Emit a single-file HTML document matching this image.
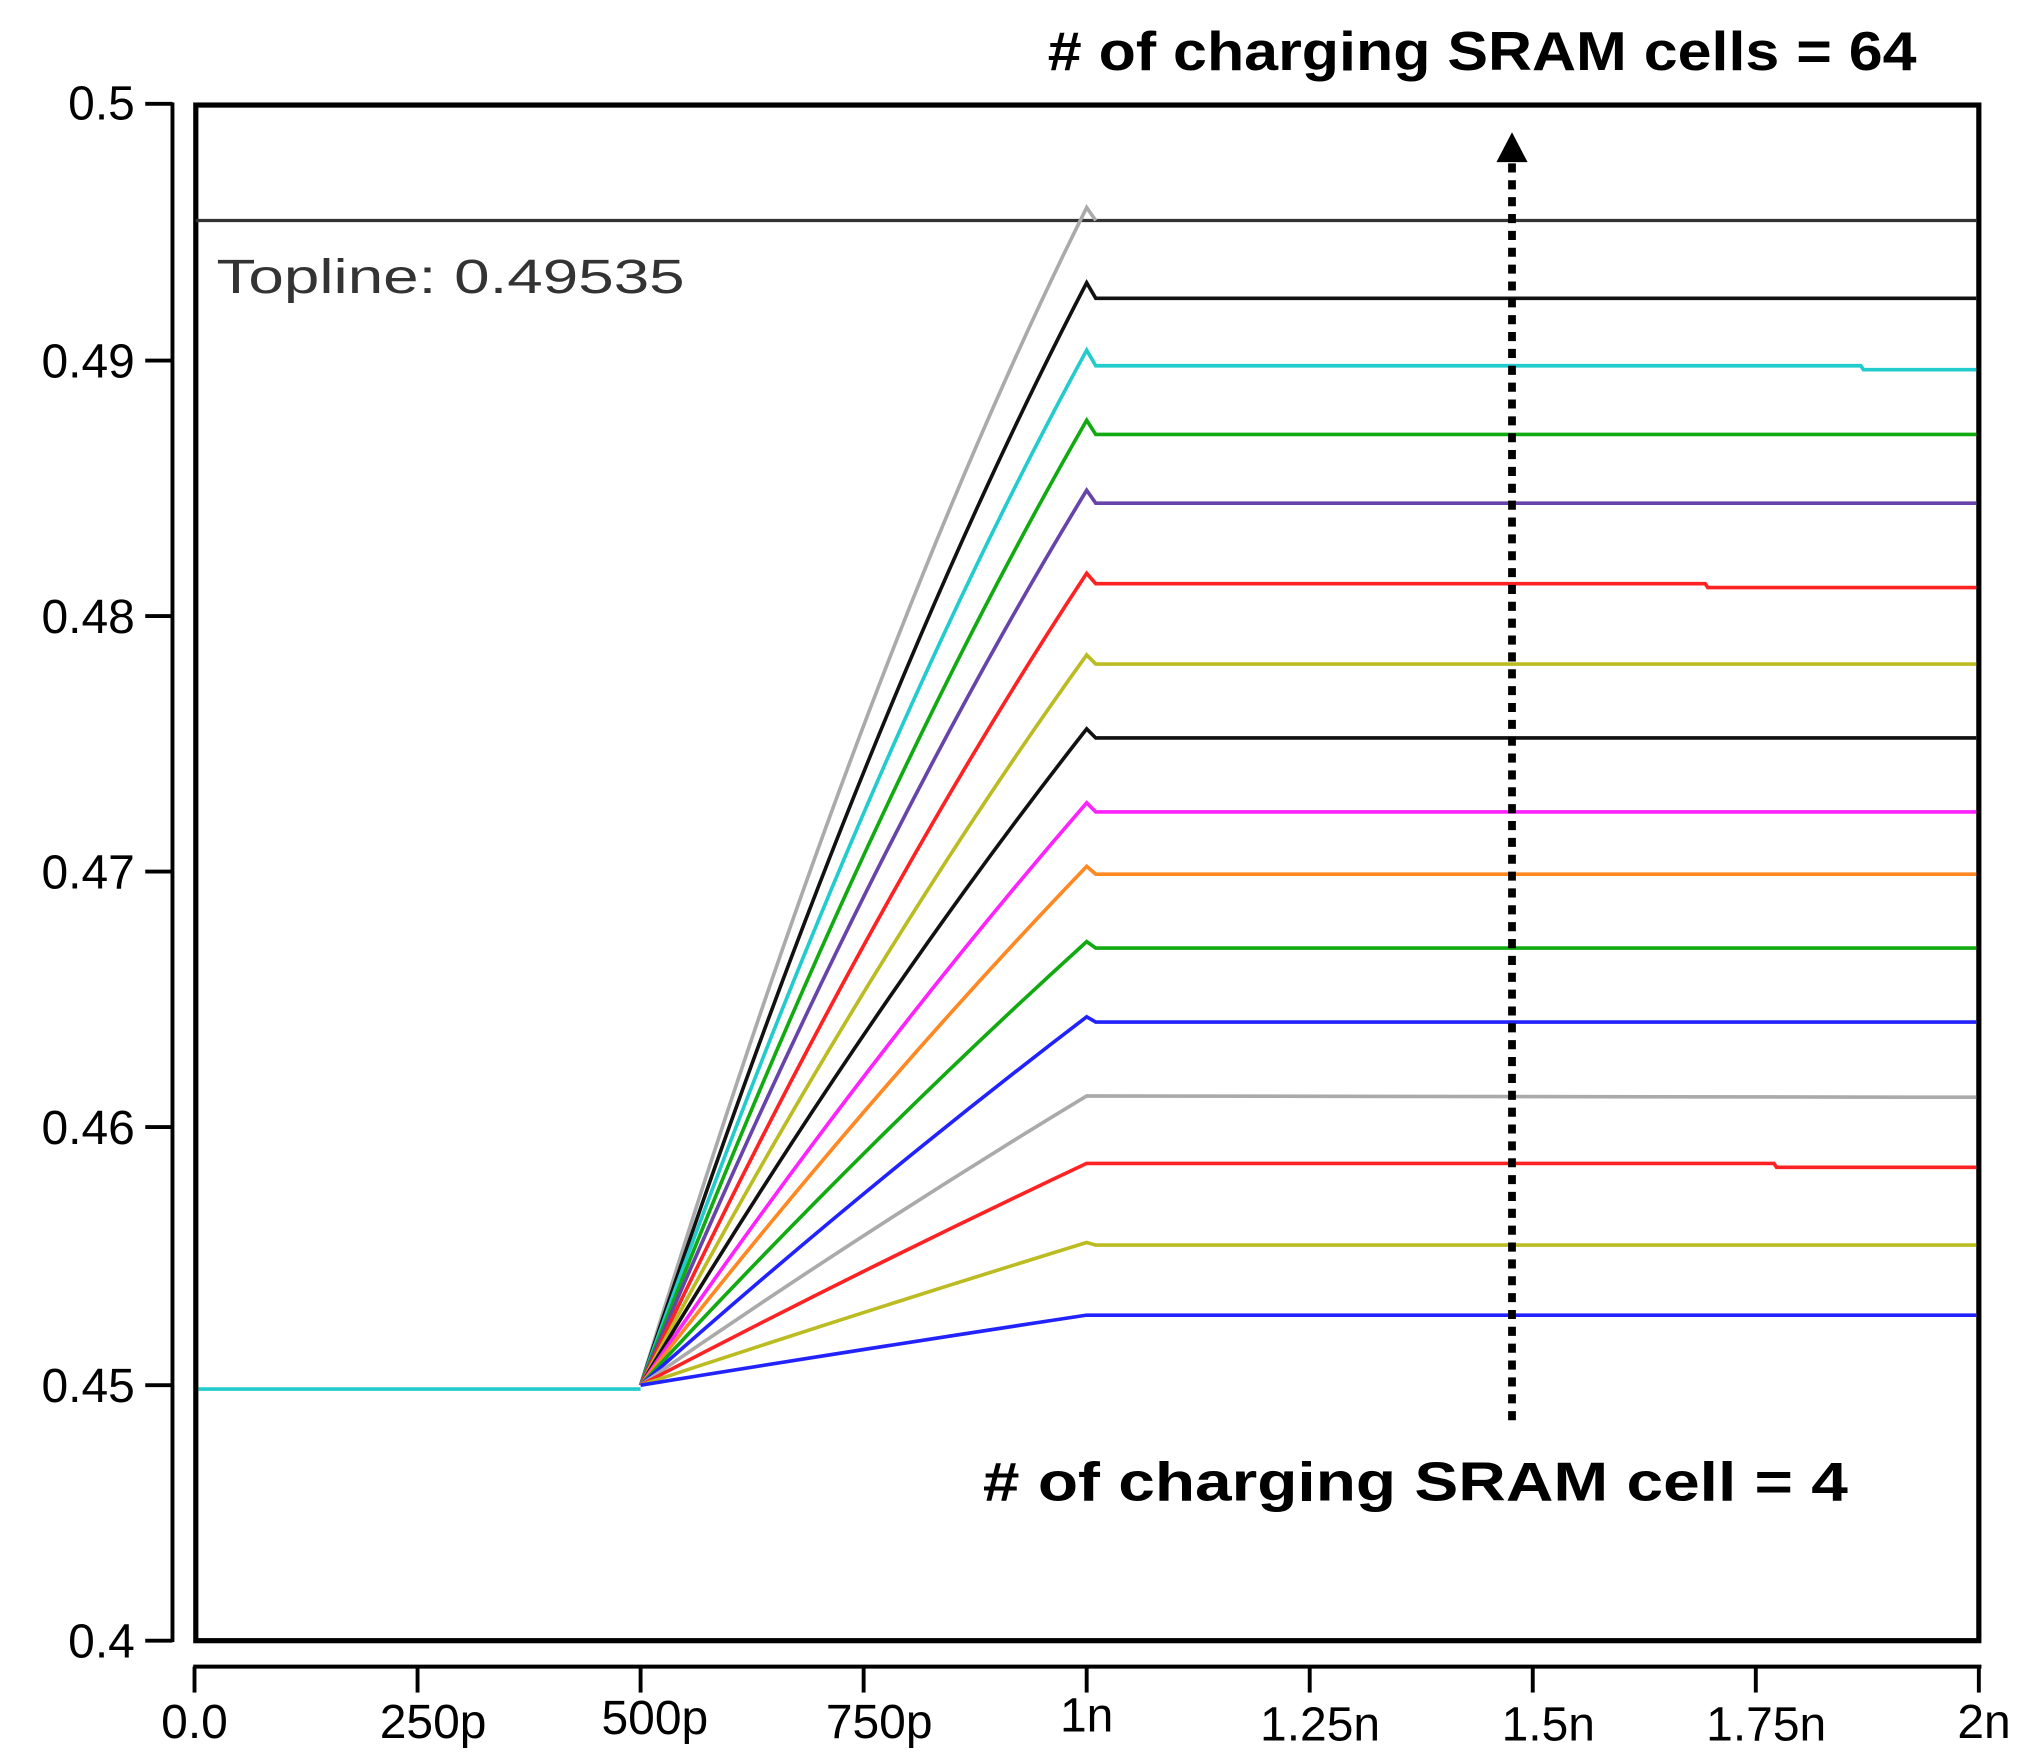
<!DOCTYPE html>
<html><head><meta charset="utf-8"><style>html,body{margin:0;padding:0;background:#fff}svg{display:block}</style></head>
<body>
<svg width="2032" height="1760" viewBox="0 0 1567 1357" preserveAspectRatio="none" xmlns="http://www.w3.org/2000/svg">
<rect width="1567" height="1357" fill="#fff"/>
<g stroke="#000" stroke-width="3">
<line x1="133" y1="79" x2="133" y2="1266"/>
<line x1="112" y1="80" x2="133" y2="80"/>
<line x1="112" y1="278" x2="133" y2="278"/>
<line x1="112" y1="475" x2="133" y2="475"/>
<line x1="112" y1="672" x2="133" y2="672"/>
<line x1="112" y1="869" x2="133" y2="869"/>
<line x1="112" y1="1068" x2="133" y2="1068"/>
<line x1="112" y1="1265" x2="133" y2="1265"/>
<line x1="149" y1="1285" x2="1528" y2="1285"/>
<line x1="150" y1="1285" x2="150" y2="1305"/>
<line x1="322" y1="1285" x2="322" y2="1305"/>
<line x1="494" y1="1285" x2="494" y2="1305"/>
<line x1="666" y1="1285" x2="666" y2="1305"/>
<line x1="838" y1="1285" x2="838" y2="1305"/>
<line x1="1010" y1="1285" x2="1010" y2="1305"/>
<line x1="1182" y1="1285" x2="1182" y2="1305"/>
<line x1="1354" y1="1285" x2="1354" y2="1305"/>
<line x1="1526" y1="1285" x2="1526" y2="1305"/>
</g>
<g font-family="Liberation Sans, sans-serif" font-size="37" fill="#000" text-anchor="end">
<text x="104" y="92">0.5</text>
<text x="104" y="291">0.49</text>
<text x="104" y="488">0.48</text>
<text x="104" y="685">0.47</text>
<text x="104" y="882">0.46</text>
<text x="104" y="1081">0.45</text>
<text x="104" y="1278">0.4</text>
</g>
<g font-family="Liberation Sans, sans-serif" font-size="37" fill="#000" text-anchor="middle">
<text x="150" y="1340">0.0</text>
<text x="334" y="1340">250p</text>
<text x="505" y="1337">500p</text>
<text x="678" y="1340">750p</text>
<text x="838" y="1335">1n</text>
<text x="1018" y="1342">1.25n</text>
<text x="1194" y="1342">1.5n</text>
<text x="1362" y="1342">1.75n</text>
<text x="1530" y="1340">2n</text>
</g>
<rect x="151" y="81" width="1375" height="1184" fill="none" stroke="#000" stroke-width="4"/>
<line x1="151" y1="170" x2="1524" y2="170" stroke="#333" stroke-width="2.5"/>
<text x="167" y="226" font-family="Liberation Sans, sans-serif" font-size="37" fill="#333" textLength="361" lengthAdjust="spacingAndGlyphs">Topline: 0.49535</text>
<line x1="153" y1="1071" x2="494" y2="1071" stroke="#2cc" stroke-width="2.8"/>
<g fill="none" stroke-width="2.8">
<path d="M494 1068 Q666 505 838 160 L845 170" stroke="#aaa"/>
<path d="M494 1068 Q666 548 838 218 L845 230 L1524 230" stroke="#111"/>
<path d="M494 1068 Q666 585 838 270 L845 282 L1435 282 L1437 285 L1524 285" stroke="#2cc"/>
<path d="M494 1068 Q666 623 838 324 L845 335 L1524 335" stroke="#1a1"/>
<path d="M494 1068 Q666 660 838 378 L845 388 L1524 388" stroke="#64a"/>
<path d="M494 1068 Q666 703 838 442 L845 450 L1315 450 L1317 453 L1524 453" stroke="#f22"/>
<path d="M494 1068 Q666 744 838 505 L845 512 L1524 512" stroke="#bb2"/>
<path d="M494 1068 Q666 781 838 562 L845 569 L1524 569" stroke="#111"/>
<path d="M494 1068 Q666 817 838 619 L845 626 L1524 626" stroke="#f2f"/>
<path d="M494 1068 Q666 847 838 668 L845 674 L1524 674" stroke="#f82"/>
<path d="M494 1068 Q666 882 838 726 L845 731 L1524 731" stroke="#1a1"/>
<path d="M494 1068 Q666 915 838 784 L845 788 L1524 788" stroke="#22f"/>
<path d="M494 1068 Q666 949 838 845 L1524 846" stroke="#aaa"/>
<path d="M494 1068 Q666 978 838 897 L1368 897 L1370 900 L1524 900" stroke="#f22"/>
<path d="M494 1068 Q666 1011 838 958 L845 960 L1524 960" stroke="#bb2"/>
<path d="M494 1068 Q666 1040 838 1014 L1524 1014" stroke="#22f"/>
</g>
<line x1="1166" y1="1095" x2="1166" y2="122" stroke="#000" stroke-width="6" stroke-dasharray="7,6"/>
<polygon points="1166,102 1154,125 1178,125" fill="#000"/>
<g font-family="Liberation Sans, sans-serif" font-weight="bold" font-size="42" fill="#000">
<text x="808" y="54" textLength="670" lengthAdjust="spacingAndGlyphs">#  of charging SRAM cells = 64</text>
<text x="758" y="1157" textLength="667" lengthAdjust="spacingAndGlyphs">#  of charging SRAM cell = 4</text>
</g>
</svg>
</body></html>
